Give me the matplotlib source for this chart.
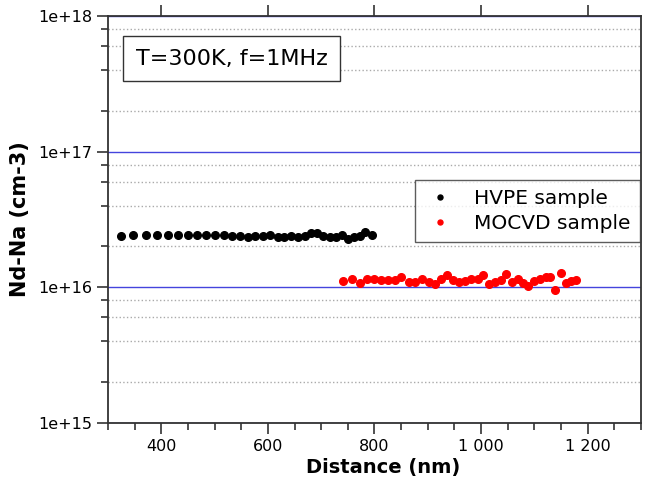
import matplotlib
matplotlib.use("Agg")
import matplotlib.pyplot as plt
from matplotlib.ticker import FixedLocator, LogLocator, FuncFormatter, MultipleLocator

hvpe_x = [323.7, 347.3, 371.0, 392.9, 412.0, 431.5, 450.0, 467.6, 484.5, 500.0,
          516.8, 532.3, 547.3, 562.3, 576.6, 590.3, 604.7, 618.4, 630.8, 643.3,
          657.0, 669.5, 681.3, 693.1, 704.4, 716.2, 728.0, 739.2, 751.0, 761.7,
          772.2, 782.7, 795.9]
hvpe_y = [2.40, 2.42, 2.45, 2.45, 2.45, 2.45, 2.45, 2.44, 2.43, 2.41,
          2.42, 2.39, 2.37, 2.36, 2.37, 2.40, 2.42, 2.35, 2.33, 2.37,
          2.36, 2.38, 2.50, 2.50, 2.38, 2.36, 2.36, 2.44, 2.28, 2.33,
          2.38, 2.57, 2.44]
mocvd_x = [741.7, 757.3, 772.2, 785.3, 799.0, 811.5, 825.8, 838.3, 850.7, 864.4,
           875.7, 889.4, 901.8, 914.3, 925.5, 936.1, 947.3, 959.1, 970.4, 981.6,
           993.4, 1003.4, 1015.8, 1026.4, 1037.6, 1047.0, 1057.6, 1068.8, 1079.4, 1088.7,
           1099.9, 1111.2, 1121.8, 1129.9, 1139.2, 1149.2, 1159.1, 1168.5, 1179.1]
mocvd_y = [1.113, 1.152, 1.076, 1.145, 1.158, 1.139, 1.139, 1.139, 1.185, 1.100,
           1.100, 1.145, 1.100, 1.052, 1.145, 1.226, 1.139, 1.088, 1.113, 1.158,
           1.152, 1.226, 1.064, 1.100, 1.132, 1.247, 1.094, 1.145, 1.082, 1.028,
           1.113, 1.145, 1.191, 1.191, 0.961, 1.282, 1.070, 1.113, 1.126]
scale = 1e16

x_ticks = [400, 600, 800, 1000, 1200]
x_ticklabels = ["400", "600", "800", "1 000", "1 200"]
y_ticks = [1e15, 1e16, 1e17, 1e18]
y_ticklabels = ["1e+15", "1e+16", "1e+17", "1e+18"]

fig = plt.figure(figsize=(6.56, 4.83), dpi=100)
ax = fig.add_axes([0.1646, 0.1242, 0.8124, 0.8428])

ax.set_yscale("log")
ax.set_xlim(300, 1300)
ax.set_ylim(1e15, 1e18)

ax.plot(hvpe_x, [v * scale for v in hvpe_y], "o", color="black", ms=5.5,
        mec="black", label="HVPE sample", zorder=3)
ax.plot(mocvd_x, [v * scale for v in mocvd_y], "o", color="#ff0000", ms=5.5,
        mec="#ff0000", label="MOCVD sample", zorder=3)

ax.xaxis.set_major_locator(FixedLocator(x_ticks))
ax.set_xticklabels(x_ticklabels)
ax.xaxis.set_minor_locator(MultipleLocator(50))
ax.yaxis.set_major_locator(FixedLocator(y_ticks))
ax.set_yticklabels(y_ticklabels)
ax.yaxis.set_minor_locator(LogLocator(base=10, subs=(2, 4, 6, 8)))
ax.yaxis.set_minor_formatter(FuncFormatter(lambda v, p: ""))

ax.tick_params(axis="both", which="major", direction="out", length=8, width=1.2,
               color="#333333", labelsize=11.5, labelcolor="black")
ax.tick_params(axis="both", which="minor", direction="out", length=5, width=1.2,
               color="#333333")
ax.tick_params(axis="x", which="major", top=True)

for sp in ax.spines.values():
    sp.set_color("#333333")
    sp.set_linewidth(1.3)

ax.grid(True, axis="y", which="major", color="#4444dd", linestyle="-", linewidth=1.0)
ax.grid(True, axis="y", which="minor", color="#aaaaaa", linestyle=":", linewidth=1.0)
ax.set_axisbelow(True)

ax.set_xlabel("Distance (nm)", fontsize=14, fontweight="bold")
ax.xaxis.set_label_coords(0.517, -0.085)
ax.set_ylabel("Nd-Na (cm-3)", fontsize=15, fontweight="bold")
ax.yaxis.set_label_coords(-0.146, 0.5)

ax.text(0.052, 0.895, "T=300K, f=1MHz", transform=ax.transAxes, fontsize=16,
        va="center", ha="left",
        bbox=dict(boxstyle="square,pad=0.55", fc="white", ec="#333333", lw=1.0))

leg = ax.legend(loc="upper right", bbox_to_anchor=(0.998, 0.597), borderaxespad=0,
                fontsize=14.5, frameon=True, fancybox=False, edgecolor="#333333",
                markerscale=0.65, handletextpad=0.9, borderpad=0.45,
                labelspacing=0.3, handlelength=1.6)
leg.get_frame().set_linewidth(1.0)

fig.savefig("out.png", dpi=100)
